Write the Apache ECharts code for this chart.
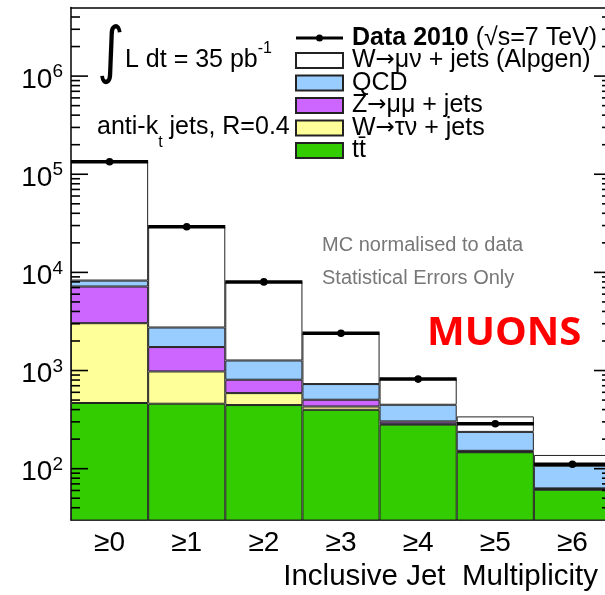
<!DOCTYPE html>
<html>
<head>
<meta charset="utf-8">
<script src="https://cdn.jsdelivr.net/npm/echarts@6/dist/echarts.min.js"></script>
<style>
html,body{margin:0;padding:0;background:#fff;overflow:hidden;}
#jetPic{width:620px;height:595px;}
</style>
</head>
<body>
<div id="jetPic"></div>
<script>
var categories = ['≥0', '≥1', '≥2', '≥3', '≥4', '≥5', '≥6'];
// data points (events per bin)
var dataCounts = [134000, 29200, 8000, 2400, 818, 287, 111];
// MC components, stacked bottom -> top
var ttbarVals = [467, 459, 445, 398, 281, 147, 61];
var wtaunuVals = [2570, 520, 144, 32, 6, 2, 1];
var zmumuVals = [4140, 755, 217, 74, 16, 3, 1];
var qcdVals = [1080, 1010, 460, 224, 145, 85, 44];
var wmunuVals = [125700, 26460, 6735, 1672, 370, 104, 31];

var yMin = 30, yMax = 5e6;
var majorTicks = [100, 1000, 10000, 100000, 1000000];
var minorMantissa = [2, 3, 4, 5, 6, 7, 8, 9];
var decades = [10, 100, 1000, 10000, 100000, 1000000];

var font = 'Liberation Sans';

var tickData = [];
majorTicks.forEach(function (v) { tickData.push([0, v, 17]); });
decades.forEach(function (d) {
  minorMantissa.forEach(function (m) {
    var v = m * d;
    if (v > yMin && v < yMax) tickData.push([0, v, 9]);
  });
});

var myChart = echarts.init(document.querySelector('#jetPic'));

function mcBar(name, vals, color) {
  return {
    name: name,
    type: 'bar',
    stack: 'mc',
    clip: true,
    barCategoryGap: '0%',
    silent: true,
    itemStyle: { color: color, borderColor: '#222', borderWidth: 1 },
    data: vals
  };
}

// side: 0 = left frame, 1 = right frame
function tickSeries(side) {
  return {
    type: 'custom',
    zlevel: 1,
    z: 9,
    silent: true,
    clip: false,
    dimensions: ['x', 'v', 'len'],
    encode: { x: 0, y: 1 },
    data: tickData,
    renderItem: function (params, api) {
      var len = api.value(2);
      var y = api.coord([0, api.value(1)])[1];
      var cs = params.coordSys;
      var x0 = side === 0 ? cs.x : cs.x + cs.width - len;
      return {
        type: 'rect',
        shape: { x: x0, y: y - 0.8, width: len, height: 1.6 },
        style: { fill: '#000' }
      };
    }
  };
}

var option = {
  animation: false,
  backgroundColor: '#fff',
  grid: { left: 71, top: 7.5, right: 9, bottom: 75, outerBoundsMode: 'none' },
  legend: {
    orient: 'vertical',
    left: 295,
    top: 25.5,
    padding: 0,
    itemWidth: 47,
    itemHeight: 15,
    itemGap: -2.5,
    icon: 'rect',
    selectedMode: false,
    data: [
      { name: 'Data 2010', icon: 'path://M0,0L0,0ZM47,15L47,15ZM0,6L47,6L47,9L0,9ZM20,7.5A3.5,3.5,0,1,1,27,7.5A3.5,3.5,0,1,1,20,7.5Z' },
      'W→μν + jets (Alpgen)', 'QCD', 'Z→μμ + jets', 'W→τν + jets', 'tt\u0304'
    ],
    formatter: function (name) {
      if (name === 'Data 2010') return '{b|Data 2010} (√s=7 TeV)';
      return name.replace('→', '{a|→}');
    },
    textStyle: {
      fontFamily: font,
      fontSize: 25,
      color: '#000',
      padding: [0, 0, 0, 4],
      rich: {
        b: { fontFamily: font, fontSize: 25, fontWeight: 'bold', color: '#000' },
        a: { fontFamily: 'DejaVu Sans', fontSize: 23, color: '#000' }
      }
    }
  },
  xAxis: [
    {
      type: 'category',
      data: categories,
      position: 'bottom',
      axisLine: { lineStyle: { color: '#000', width: 1.5 } },
      axisTick: { inside: true, length: 16, lineStyle: { color: '#000', width: 1.2 } },
      axisLabel: { fontFamily: font, fontSize: 28, color: '#000', margin: 9 }
    },
    {
      type: 'category',
      data: categories,
      position: 'top',
      axisLine: { lineStyle: { color: '#000', width: 1.5 } },
      axisTick: { inside: true, length: 15, lineStyle: { color: '#000', width: 1.2 } },
      axisLabel: { show: false }
    }
  ],
  yAxis: {
    type: 'log',
    logBase: 10,
    min: yMin,
    max: yMax,
    axisLine: { show: true, lineStyle: { color: '#000', width: 1.5 } },
    axisTick: { show: false },
    splitLine: { show: false },
    axisLabel: {
      margin: 8,
      padding: [8, 0, 0, 0],
      formatter: function (v) {
        var lg = Math.log10(v);
        var e = Math.round(lg);
        if (Math.abs(lg - e) > 1e-6 || e < 2 || e > 6) return '';
        return '{b|10}{s|' + e + '}';
      },
      rich: {
        b: { fontFamily: font, fontSize: 28, lineHeight: 35, color: '#000' },
        s: { fontFamily: font, fontSize: 19, verticalAlign: 'top', color: '#000' }
      }
    }
  },
  graphic: [
    { type: 'text', x: 97, y: 24, scaleX: 0.85, style: { text: '∫', fontFamily: 'DejaVu Sans', fontSize: 62, fill: '#000', verticalAlign: 'top' } },
    {
      type: 'text', x: 125, y: 60,
      style: {
        text: '{n|L dt = 35 pb}{s|-1}', verticalAlign: 'middle',
        rich: {
          n: { fontFamily: font, fontSize: 25, lineHeight: 38, fill: '#000' },
          s: { fontFamily: font, fontSize: 16, verticalAlign: 'top', fill: '#000' }
        }
      }
    },
    {
      type: 'text', x: 97, y: 127,
      style: {
        text: '{n|anti-k}{d|t}{n| jets, R=0.4}', verticalAlign: 'middle',
        rich: {
          n: { fontFamily: font, fontSize: 25, lineHeight: 47, fill: '#000' },
          d: { fontFamily: font, fontSize: 16, verticalAlign: 'bottom', fill: '#000' }
        }
      }
    },
    { type: 'text', x: 322, y: 245, style: { text: 'MC normalised to data', fontFamily: font, fontSize: 20, fill: '#777', verticalAlign: 'middle' } },
    { type: 'text', x: 322, y: 278, style: { text: 'Statistical Errors Only', fontFamily: font, fontSize: 20, fill: '#777', verticalAlign: 'middle' } },
    { type: 'text', x: 427, y: 334, style: { text: 'MUONS', fontFamily: 'Open Sans', fontWeight: 'bold', fontSize: 40, fill: '#ff0000', verticalAlign: 'middle' } },
    { type: 'text', x: 598, y: 577, style: { text: 'Inclusive Jet  Multiplicity', fontFamily: font, fontSize: 29.5, fill: '#000', align: 'right', verticalAlign: 'middle' } }
  ],
  series: [
    mcBar('tt\u0304', ttbarVals, '#33cc00'),
    mcBar('W→τν + jets', wtaunuVals, '#ffff99'),
    mcBar('Z→μμ + jets', zmumuVals, '#cc66ff'),
    mcBar('QCD', qcdVals, '#99ccff'),
    mcBar('W→μν + jets (Alpgen)', wmunuVals, '#ffffff'),
    {
      name: 'Data 2010',
      type: 'custom',
      z: 8,
      silent: true,
      itemStyle: { color: '#000' },
      data: dataCounts.map(function (v, i) { return [i, v]; }),
      renderItem: function (params, api) {
        var c = api.coord([api.value(0), api.value(1)]);
        var bw = api.size([1, 0])[0];
        return {
          type: 'group',
          children: [
            { type: 'line', shape: { x1: c[0] - bw / 2, y1: c[1], x2: c[0] + bw / 2, y2: c[1] }, style: { stroke: '#000', lineWidth: 3.5 } },
            { type: 'circle', shape: { cx: c[0], cy: c[1], r: 3.8 }, style: { fill: '#000' } }
          ]
        };
      }
    },
    tickSeries(0),
    tickSeries(1)
  ]
};

myChart.setOption(option);
window.addEventListener('resize', function () {
  myChart.resize();
});
</script>
</body>
</html>
